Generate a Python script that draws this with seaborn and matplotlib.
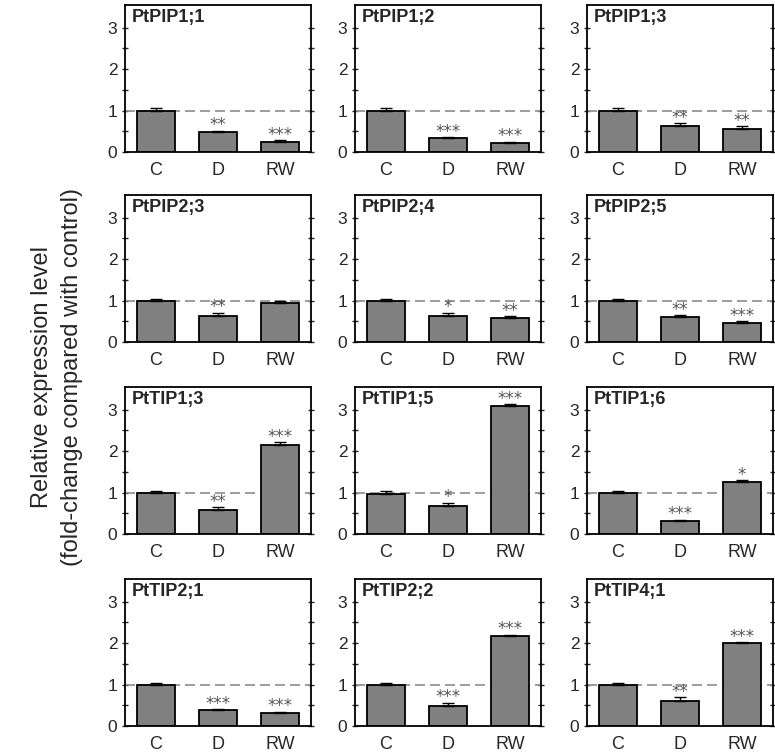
import numpy as np
import pandas as pd
import matplotlib
matplotlib.use("Agg")
import matplotlib.pyplot as plt
import seaborn as sns

# dados
tratamentos = ["C", "D", "RW"]
genes = ["PtPIP1;1", "PtPIP1;2", "PtPIP1;3",
         "PtPIP2;3", "PtPIP2;4", "PtPIP2;5",
         "PtTIP1;3", "PtTIP1;5", "PtTIP1;6",
         "PtTIP2;1", "PtTIP2;2", "PtTIP4;1"]

media_C = [1.00, 1.00, 1.00, 1.00, 1.00, 1.00, 1.00, 0.97, 1.00, 1.00, 1.00, 1.00]
media_D = [0.48, 0.33, 0.62, 0.63, 0.63, 0.60, 0.57, 0.68, 0.31, 0.38, 0.48, 0.61]
media_RW = [0.25, 0.22, 0.55, 0.93, 0.59, 0.46, 2.15, 3.10, 1.26, 0.32, 2.17, 2.00]

erro_C = [0.07, 0.07, 0.06, 0.03, 0.03, 0.03, 0.03, 0.08, 0.03, 0.03, 0.03, 0.03]
erro_D = [0.03, 0.03, 0.07, 0.08, 0.08, 0.04, 0.08, 0.08, 0.04, 0.03, 0.08, 0.08]
erro_RW = [0.03, 0.03, 0.07, 0.07, 0.03, 0.04, 0.07, 0.03, 0.04, 0.03, 0.03, 0.03]

sig_D = ["**", "***", "**", "**", "*", "**", "**", "*", "***", "***", "***", "**"]
sig_RW = ["***", "***", "**", "", "**", "***", "***", "***", "*", "***", "***", "***"]

sns.set_style("ticks")
plt.rcParams["font.family"] = ["Liberation Sans", "DejaVu Sans"]

fig = plt.figure(figsize=(7.75, 7.55), dpi=100)
W, H = 775, 755

col_left = [125, 355, 587]
row_top = [5, 195, 387, 579]
larg, alt = 186, 147

for i, gene in enumerate(genes):
    lin, col = divmod(i, 3)
    x0 = col_left[col]
    y0 = row_top[lin]
    ax = fig.add_axes([x0 / W, 1 - (y0 + alt) / H, larg / W, alt / H])

    df = pd.DataFrame({
        "trat": tratamentos,
        "valor": [media_C[i], media_D[i], media_RW[i]],
        "erro": [erro_C[i], erro_D[i], erro_RW[i]],
        "sig": ["", sig_D[i], sig_RW[i]],
    })

    ax.axhline(1, color="#8c8c8c", lw=1.2, ls=(0, (6, 3)), zorder=1)
    sns.barplot(data=df, x="trat", y="valor", order=tratamentos, color="#808080",
                edgecolor="black", linewidth=1.3, width=0.6, errorbar=None,
                saturation=1, ax=ax, zorder=2)
    xs = np.arange(len(tratamentos))
    ax.errorbar(xs, df["valor"], yerr=[np.zeros(3), df["erro"]], fmt="none",
                ecolor="black", elinewidth=1.0, capsize=4, capthick=1.0, zorder=3)
    for x, v, e, s in zip(xs, df["valor"], df["erro"], df["sig"]):
        if s:
            ax.text(x, v + e + 0.01, s, ha="center", va="baseline", fontsize=12,
                    color="#555555", family="DejaVu Sans")

    ax.set_xlim(-0.5, 2.5)
    ax.set_ylim(0, 3.55)
    ax.set_yticks([0, 1, 2, 3])
    ax.set_yticks([0.5, 1.5, 2.5], minor=True)
    ax.set_xlabel("")
    ax.set_ylabel("")
    ax.tick_params(axis="y", which="both", direction="inout", length=5, width=1,
                   labelsize=12.5, right=True, pad=3)
    ax.tick_params(axis="x", length=0, labelsize=13, pad=7)
    for sp in ax.spines.values():
        sp.set_visible(True)
        sp.set_linewidth(1.3)
        sp.set_color("black")
    ax.text(0.035, 0.975, gene, transform=ax.transAxes, ha="left", va="top",
            fontsize=13, fontweight="bold")

fig.text(42 / W, 0.5, "Relative expression level", rotation=90, ha="center",
         va="center", fontsize=17)
fig.text(72 / W, 0.5, "(fold-change compared with control)", rotation=90,
         ha="center", va="center", fontsize=17)

fig.savefig("out.png", dpi=100)
